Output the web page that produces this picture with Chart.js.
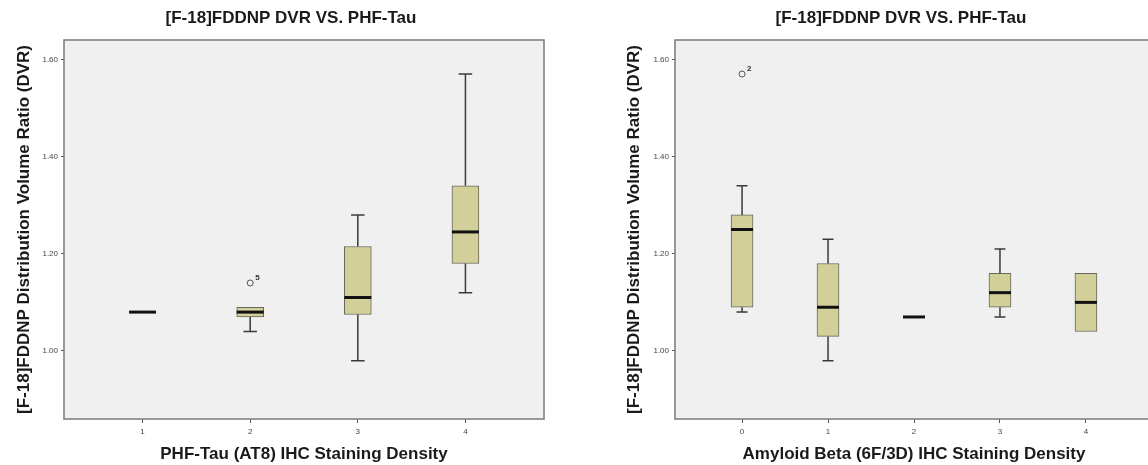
<!DOCTYPE html>
<html>
<head>
<meta charset="utf-8">
<script src="https://cdn.jsdelivr.net/npm/chart.js@4/dist/chart.umd.min.js"></script>
<style>
body{margin:0;background:#fff;overflow:hidden;}
#wrap{position:relative;width:1148px;height:465px;overflow:hidden;}
#c1{position:absolute;left:0;top:0;}
#c2{position:absolute;left:574px;top:0;}
</style>
</head>
<body>
<div id="wrap">
<canvas id="c1" width="574" height="465"></canvas>
<canvas id="c2" width="654" height="465"></canvas>
</div>
<script>
var tituloGrafico = '[F-18]FDDNP DVR VS. PHF-Tau';
var tituloY = '[F-18]FDDNP Distribution Volume Ratio (DVR)';
var yTicks = [1.00, 1.20, 1.40, 1.60];

// PHF-Tau (AT8)
var tauCats = [1, 2, 3, 4];
var tauLow  = [1.08, 1.04, 0.98, 1.12];
var tauQ1   = [1.08, 1.07, 1.075, 1.18];
var tauMed  = [1.08, 1.08, 1.11, 1.245];
var tauQ3   = [1.08, 1.09, 1.215, 1.34];
var tauHigh = [1.08, 1.09, 1.28, 1.57];
var tauOutX = [2];
var tauOutY = [1.14];
var tauOutLabel = ['5'];

// Amyloid Beta (6F/3D)
var abCats = [0, 1, 2, 3, 4];
var abLow  = [1.08, 0.98, 1.07, 1.07, 1.04];
var abQ1   = [1.09, 1.03, 1.07, 1.09, 1.04];
var abMed  = [1.25, 1.09, 1.07, 1.12, 1.10];
var abQ3   = [1.28, 1.18, 1.07, 1.16, 1.16];
var abHigh = [1.34, 1.23, 1.07, 1.21, 1.16];
var abOutX = [0];
var abOutY = [1.57];
var abOutLabel = ['2'];

Chart.defaults.font.family = '"Liberation Sans", Arial, sans-serif';

var caixaPlugin = {
	id: 'caixa',
	beforeDraw: function(chart){
		var ca = chart.chartArea, ctx = chart.ctx;
		ctx.save();
		ctx.fillStyle = '#f0f0f0';
		ctx.fillRect(ca.left, ca.top, ca.right - ca.left, ca.bottom - ca.top);
		ctx.restore();
	},
	afterDatasetsDraw: function(chart, args, o){
		var sx = chart.scales.x, sy = chart.scales.y, ctx = chart.ctx;
		var w = o.barW;
		ctx.save();
		for(var i = 0; i < o.cats.length; i++){
			var px = sx.getPixelForValue(o.cats[i]);
			ctx.strokeStyle = '#3a3a3a';
			ctx.lineWidth = 1.5;
			if(o.high[i] > o.q3[i]){
				ctx.beginPath();
				ctx.moveTo(px, sy.getPixelForValue(o.q3[i]));
				ctx.lineTo(px, sy.getPixelForValue(o.high[i]));
				ctx.moveTo(px - w/4, sy.getPixelForValue(o.high[i]));
				ctx.lineTo(px + w/4, sy.getPixelForValue(o.high[i]));
				ctx.stroke();
			}
			if(o.low[i] < o.q1[i]){
				ctx.beginPath();
				ctx.moveTo(px, sy.getPixelForValue(o.q1[i]));
				ctx.lineTo(px, sy.getPixelForValue(o.low[i]));
				ctx.moveTo(px - w/4, sy.getPixelForValue(o.low[i]));
				ctx.lineTo(px + w/4, sy.getPixelForValue(o.low[i]));
				ctx.stroke();
			}
			ctx.strokeStyle = '#111';
			ctx.lineWidth = 3;
			ctx.beginPath();
			ctx.moveTo(px - w/2, sy.getPixelForValue(o.med[i]));
			ctx.lineTo(px + w/2, sy.getPixelForValue(o.med[i]));
			ctx.stroke();
		}
		// rotulos dos outliers
		ctx.fillStyle = '#333';
		ctx.font = 'bold 8px "Liberation Sans", Arial, sans-serif';
		ctx.textAlign = 'left';
		ctx.textBaseline = 'middle';
		for(var j = 0; j < o.outX.length; j++){
			ctx.fillText(o.outLabel[j], sx.getPixelForValue(o.outX[j]) + 5, sy.getPixelForValue(o.outY[j]) - 5);
		}
		ctx.restore();
	},
	afterDraw: function(chart){
		var ca = chart.chartArea, ctx = chart.ctx;
		ctx.save();
		ctx.strokeStyle = '#7a7a7a';
		ctx.lineWidth = 1.5;
		ctx.strokeRect(ca.left, ca.top, ca.right - ca.left, ca.bottom - ca.top);
		ctx.fillStyle = '#1a1a1a';
		ctx.font = 'bold 17px "Liberation Sans", Arial, sans-serif';
		ctx.textAlign = 'center';
		ctx.textBaseline = 'middle';
		ctx.fillText(tituloGrafico, (ca.left + ca.right)/2 - 13, 18);
		ctx.restore();
	}
};

function montarGrafico(id, cats, low, q1, med, q3, high, outX, outY, outLabel, tituloX, xMin, xMax, cfg){
	var caixas = cats.map(function(c, i){ return {x: c, y: [q1[i], q3[i]]}; });
	var pontos = outX.map(function(c, i){ return {x: c, y: outY[i]}; });
	return new Chart(document.getElementById(id), {
		type: 'bar',
		data: {
			datasets: [
				{
					type: 'bar',
					data: caixas,
					backgroundColor: '#d3cf98',
					borderColor: '#66665a',
					borderWidth: 1,
					borderSkipped: false,
					barThickness: cfg.barW
				},
				{
					type: 'scatter',
					data: pontos,
					pointStyle: 'circle',
					pointRadius: 3,
					borderColor: '#555',
					backgroundColor: 'rgba(0,0,0,0)',
					borderWidth: 1
				}
			]
		},
		options: {
			responsive: false,
			animation: false,
			layout: { padding: { left: 0, right: cfg.padRight, top: 40, bottom: 0 } },
			plugins: {
				legend: { display: false },
				tooltip: { enabled: false },
				caixa: { cats: cats, low: low, q1: q1, med: med, q3: q3, high: high, outX: outX, outY: outY, outLabel: outLabel, barW: cfg.barW }
			},
			scales: {
				x: {
					type: 'linear',
					min: xMin,
					max: xMax,
					offset: false,
					afterBuildTicks: function(s){ s.ticks = cats.map(function(v){ return {value: v}; }); },
					afterFit: function(s){ s.height = 46; },
					grid: { offset: false, drawOnChartArea: false, drawTicks: true, tickLength: 4, color: '#555' },
					border: { display: false },
					ticks: { font: { size: 8 }, color: '#444', padding: 4, callback: function(v){ return String(v); } },
					title: { display: true, text: tituloX, font: { size: 17, weight: 'bold' }, color: '#1a1a1a', padding: { top: 0, bottom: 0 } }
				},
				y: {
					type: 'linear',
					min: 0.86,
					max: 1.64,
					afterBuildTicks: function(s){ s.ticks = yTicks.map(function(v){ return {value: v}; }); },
					afterFit: function(s){ s.width = cfg.yWidth; },
					grid: { drawOnChartArea: false, drawTicks: true, tickLength: 3, color: '#555' },
					border: { display: false },
					ticks: { font: { size: 8 }, color: '#444', padding: 3, callback: function(v){ return v.toFixed(2); } },
					title: { display: true, text: tituloY, font: { size: 17, weight: 'bold' }, color: '#1a1a1a', padding: { top: cfg.yTitlePad, bottom: 0 } }
				}
			}
		},
		plugins: [caixaPlugin]
	});
}

montarGrafico('c1', tauCats, tauLow, tauQ1, tauMed, tauQ3, tauHigh, tauOutX, tauOutY, tauOutLabel,
	'PHF-Tau (AT8) IHC Staining Density', 0.27, 4.73, { barW: 27, padRight: 30, yWidth: 64, yTitlePad: 14 });
montarGrafico('c2', abCats, abLow, abQ1, abMed, abQ3, abHigh, abOutX, abOutY, abOutLabel,
	'Amyloid Beta (6F/3D) IHC Staining Density', -0.78, 4.78, { barW: 22, padRight: 75, yWidth: 101, yTitlePad: 50 });
</script>
</body>
</html>
